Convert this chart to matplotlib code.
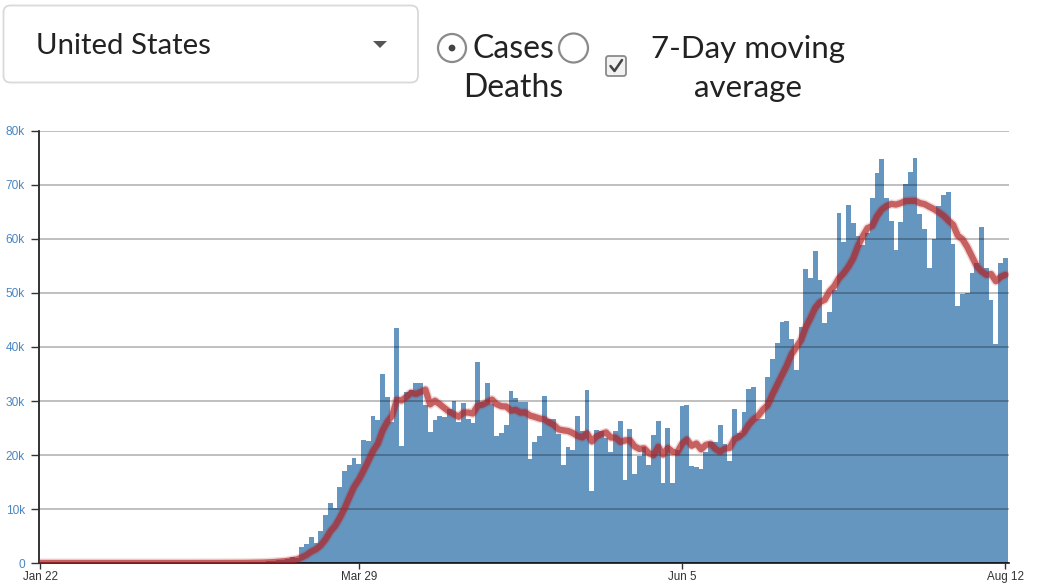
import numpy as np
import pandas as pd
import matplotlib
matplotlib.use("Agg")
import matplotlib.pyplot as plt
from matplotlib.patches import FancyBboxPatch, Circle, Polygon
from matplotlib.lines import Line2D

# ---------------- data ----------------
dates = pd.date_range("2020-01-22", "2020-08-12", freq="D")
cases = [
    # Jan 22-31
    1, 0, 1, 0, 3, 0, 0, 0, 0, 2,
    # Feb 1-29
    1, 0, 3, 0, 0, 0, 0, 0, 0, 0, 1, 0, 1, 0, 0, 0, 0, 0, 0, 0,
    2, 0, 0, 36, 0, 6, 1, 3, 8,
    # Mar 1-31
    7, 23, 20, 31, 70, 96, 108, 161, 118, 287,
    351, 511, 580, 760, 1200, 1000, 2900, 3500, 4800, 3700,
    5900, 8900, 11100, 10100, 14100, 17000, 18100, 19400, 18300, 22800,
    22600,
    # Apr 1-30
    27200, 26400, 35000, 30700, 26200, 43500, 21700, 31700, 32000, 33300,
    33300, 29300, 24300, 26500, 27200, 27000, 28500, 30000, 26100, 29600,
    26700, 25900, 37200, 29800, 33300, 29400, 23500, 24100, 25600, 31900,
    # May 1-31
    30600, 29800, 29800, 19300, 22400, 23500, 30900, 26600, 26600, 23900,
    18100, 21500, 20900, 27200, 24500, 32000, 13400, 24600, 24500, 23100,
    20600, 24400, 26300, 15400, 24900, 16500, 19800, 21400, 18100, 23700,
    26300,
    # Jun 1-30
    14800, 25000, 14800, 20900, 29100, 29300, 18000, 17800, 17400, 20600,
    22400, 22400, 25600, 22000, 18800, 28500, 24000, 28000, 32200, 32600,
    26700, 26700, 34400, 37800, 40700, 44600, 44800, 41500, 35700, 43700,
    # Jul 1-31
    54400, 52800, 57800, 52400, 44400, 46500, 50500, 64800, 59400, 66300,
    63000, 60600, 58900, 61100, 67600, 72200, 74800, 67600, 63300, 58000,
    63100, 70200, 72400, 75000, 64600, 61900, 54600, 60000, 66100, 68100,
    68700,
    # Aug 1-12
    59100, 47600, 49900, 50000, 53700, 55500, 62200, 54600, 48700, 40600,
    55600, 56500,
]
tick_dates = ["2020-01-22", "2020-03-29", "2020-06-05", "2020-08-12"]
tick_labels = ["Jan 22", "Mar 29", "Jun 5", "Aug 12"]
y_ticks = [0, 10000, 20000, 30000, 40000, 50000, 60000, 70000, 80000]
y_labels = ["0", "10k", "20k", "30k", "40k", "50k", "60k", "70k", "80k"]

series = pd.Series(cases, index=dates)
moving_avg = series.rolling(7, min_periods=1).mean()

# ---------------- figure ----------------
W, H = 1038, 587
fig = plt.figure(figsize=(W / 100, H / 100), dpi=100)

# UI overlay in pixel coordinates
ov = fig.add_axes([0, 0, 1, 1])
ov.set_xlim(0, W)
ov.set_ylim(H, 0)
ov.axis("off")

ov.add_patch(FancyBboxPatch((3.5, 5.5), 414.5, 77,
                            boxstyle="round,pad=0,rounding_size=7",
                            fc="white", ec="#d9d9d9", lw=1.3))
ov.add_patch(Polygon([(373, 41), (387, 41), (380, 48)], closed=True,
                     fc="#555555", ec="none"))
ov.text(36, 46, "United States", fontsize=21.2, family="Lato", color="#222222",
        va="center", ha="left")

# radio buttons
ov.add_patch(Circle((452, 48), 14, fc="white", ec="#8a8a8a", lw=1.6))
ov.add_patch(Circle((452, 48), 3.4, fc="#444444", ec="none"))
ov.add_patch(Circle((573.5, 48), 14.5, fc="white", ec="#8a8a8a", lw=1.6))
ov.text(472, 58, "Cases", fontsize=23, family="Lato", color="#222222",
        va="baseline", ha="left")
ov.text(463, 97, "Deaths", fontsize=23, family="Lato", color="#222222",
        va="baseline", ha="left")

# checkbox
ov.add_patch(FancyBboxPatch((606, 56), 20, 20,
                            boxstyle="round,pad=0,rounding_size=2.5",
                            fc="#f2f2f2", ec="#8a8a8a", lw=1.3))
ov.add_line(Line2D([610.5, 614.5, 622], [66, 71, 60], color="#444444", lw=1.8,
                   solid_capstyle="round", solid_joinstyle="round"))
ov.text(651, 58, "7-Day moving", fontsize=22.5, family="Lato", color="#222222",
        va="baseline", ha="left")
ov.text(748, 97, "average", fontsize=22.5, family="Lato", color="#222222",
        va="baseline", ha="center")

# ---------------- chart ----------------
ax_left, ax_right, ax_top, ax_bottom = 38.7, 1008.7, 131, 563
ax = fig.add_axes([ax_left / W, (H - ax_bottom) / H,
                   (ax_right - ax_left) / W, (ax_bottom - ax_top) / H])
ax.set_facecolor("none")

x = np.arange(len(cases))
ax.bar(x, series.values, width=1.0, color="#4682b4", alpha=0.84,
       linewidth=0, zorder=1)
ax.plot(x, moving_avg.values, color="#b22222", lw=6.5, alpha=0.18,
        zorder=3, solid_capstyle="round")
ax.plot(x, moving_avg.values, color="#b22222", lw=4.5, alpha=0.66,
        zorder=3.1, solid_capstyle="round", solid_joinstyle="round")

ax.set_xlim(-0.337, 203.7)
ax.set_ylim(0, 80000)

ax.set_axisbelow(False)
ax.yaxis.grid(True, color="black", alpha=0.27, lw=1.3)
ax.xaxis.grid(False)

ax.set_yticks(y_ticks)
ax.set_yticklabels(y_labels)
tick_pos = [dates.get_loc(pd.Timestamp(d)) for d in tick_dates]
ax.set_xticks(tick_pos)
ax.set_xticklabels(tick_labels)

for s in ["top", "right"]:
    ax.spines[s].set_visible(False)
for s in ["left", "bottom"]:
    ax.spines[s].set_color("#111111")
    ax.spines[s].set_linewidth(1.2)

ax.tick_params(axis="y", length=5.8, width=1.0, color="#333333", pad=4,
               labelsize=8.6, labelcolor="#4a86c2")
ax.tick_params(axis="x", length=4.5, width=1.0, color="#333333", pad=1.5,
               labelsize=8.4, labelcolor="#333333")
for lab in ax.get_xticklabels() + ax.get_yticklabels():
    lab.set_family("Liberation Sans")

fig.savefig("out.png", dpi=100)
